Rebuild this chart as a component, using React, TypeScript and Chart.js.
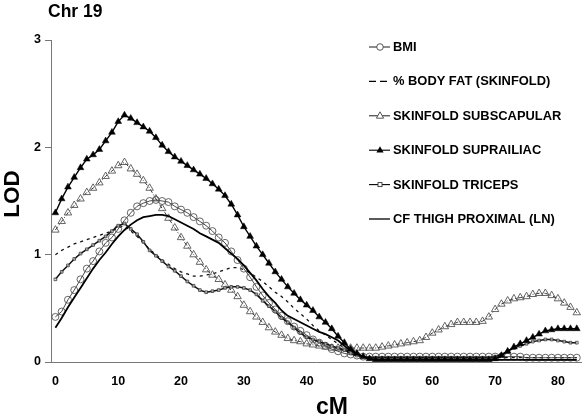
import React, { useEffect, useRef } from "react";
import { Chart, registerables } from "chart.js";

Chart.register(...registerables);

const chartTitle = "Chr 19";
const xTitle = "cM";
const yTitle = "LOD";
const xTicks = [0, 10, 20, 30, 40, 50, 60, 70, 80];
const yTicks = [0, 1, 2, 3];

const positionsCM = [
  0, 1, 2, 3, 4, 5, 6, 7, 8, 9,
  10, 11, 12, 13, 14, 15, 16, 17, 18, 19,
  20, 21, 22, 23, 24, 25, 26, 27, 28, 29,
  30, 31, 32, 33, 34, 35, 36, 37, 38, 39,
  40, 41, 42, 43, 44, 45, 46, 47, 48, 49,
  50, 51, 52, 53, 54, 55, 56, 57, 58, 59,
  60, 61, 62, 63, 64, 65, 66, 67, 68, 69,
  70, 71, 72, 73, 74, 75, 76, 77, 78, 79,
  80, 81, 82, 83,
];

const bmi = [
  0.42, 0.47, 0.58, 0.67, 0.77, 0.87, 0.94, 1.03, 1.11, 1.16,
  1.24, 1.32, 1.39, 1.45, 1.48, 1.50, 1.51, 1.50, 1.49, 1.45,
  1.42, 1.39, 1.35, 1.31, 1.27, 1.22, 1.16, 1.11, 1.03, 0.95,
  0.87, 0.79, 0.70, 0.62, 0.55, 0.49, 0.43, 0.38, 0.33, 0.29,
  0.25, 0.21, 0.18, 0.15, 0.12, 0.10, 0.08, 0.07, 0.06, 0.05,
  0.05, 0.05, 0.05, 0.05, 0.05, 0.05, 0.05, 0.05, 0.05, 0.05,
  0.05, 0.05, 0.05, 0.05, 0.05, 0.05, 0.05, 0.05, 0.05, 0.05,
  0.05, 0.05, 0.05, 0.05, 0.05, 0.04, 0.04, 0.04, 0.04, 0.04,
  0.04, 0.04, 0.04, 0.04,
];

const bodyFat = [
  1.00, 1.04, 1.07, 1.10, 1.12, 1.14, 1.16, 1.18, 1.20, 1.22,
  1.25, 1.27, 1.22, 1.17, 1.11, 1.05, 1.00, 0.95, 0.91, 0.87,
  0.84, 0.82, 0.80, 0.80, 0.81, 0.82, 0.84, 0.86, 0.88, 0.88,
  0.86, 0.83, 0.79, 0.75, 0.70, 0.65, 0.61, 0.56, 0.50, 0.45,
  0.40, 0.34, 0.29, 0.25, 0.21, 0.17, 0.13, 0.10, 0.07, 0.05,
  0.04, 0.04, 0.04, 0.04, 0.04, 0.04, 0.04, 0.04, 0.04, 0.04,
  0.04, 0.04, 0.04, 0.04, 0.04, 0.04, 0.04, 0.04, 0.04, 0.04,
  0.04, 0.04, 0.04, 0.04, 0.04, 0.04, 0.04, 0.04, 0.04, 0.04,
  0.04, 0.04, 0.04, 0.04,
];

const subscapular = [
  1.23, 1.31, 1.39, 1.46, 1.52, 1.58, 1.62, 1.67, 1.73, 1.78,
  1.83, 1.86, 1.80, 1.75, 1.69, 1.62, 1.52, 1.43, 1.34, 1.25,
  1.16, 1.08, 1.00, 0.93, 0.86, 0.81, 0.77, 0.72, 0.67, 0.61,
  0.53, 0.47, 0.42, 0.37, 0.32, 0.28, 0.25, 0.22, 0.20, 0.19,
  0.17, 0.16, 0.15, 0.14, 0.13, 0.13, 0.13, 0.13, 0.13, 0.13,
  0.13, 0.13, 0.14, 0.15, 0.16, 0.17, 0.18, 0.19, 0.20, 0.23,
  0.27, 0.30, 0.33, 0.35, 0.37, 0.37, 0.37, 0.37, 0.38, 0.42,
  0.49, 0.54, 0.57, 0.59, 0.60, 0.61, 0.63, 0.64, 0.64, 0.62,
  0.59, 0.55, 0.51, 0.46,
];

const suprailiac = [
  1.39, 1.52, 1.63, 1.72, 1.81, 1.89, 1.93, 1.98, 2.06, 2.14,
  2.24, 2.30, 2.27, 2.23, 2.19, 2.15, 2.09, 2.02, 1.96, 1.91,
  1.87, 1.83, 1.79, 1.75, 1.71, 1.66, 1.61, 1.55, 1.47, 1.37,
  1.26, 1.17, 1.08, 1.00, 0.92, 0.84, 0.77, 0.70, 0.64, 0.58,
  0.53, 0.48, 0.42, 0.37, 0.31, 0.24, 0.18, 0.12, 0.08, 0.05,
  0.03, 0.02, 0.02, 0.02, 0.02, 0.02, 0.02, 0.02, 0.02, 0.02,
  0.02, 0.02, 0.02, 0.02, 0.02, 0.02, 0.02, 0.02, 0.02, 0.02,
  0.03, 0.06, 0.10, 0.14, 0.17, 0.20, 0.23, 0.26, 0.29, 0.30,
  0.31, 0.31, 0.31, 0.31,
];

const triceps = [
  0.77, 0.84, 0.90, 0.96, 1.01, 1.05, 1.09, 1.13, 1.17, 1.22,
  1.27, 1.29, 1.24, 1.19, 1.12, 1.04, 0.99, 0.94, 0.89, 0.85,
  0.80, 0.75, 0.71, 0.67, 0.65, 0.66, 0.67, 0.69, 0.70, 0.70,
  0.69, 0.67, 0.63, 0.57, 0.52, 0.47, 0.41, 0.37, 0.32, 0.27,
  0.23, 0.21, 0.19, 0.17, 0.15, 0.13, 0.11, 0.08, 0.06, 0.05,
  0.04, 0.04, 0.04, 0.04, 0.04, 0.04, 0.04, 0.04, 0.04, 0.04,
  0.04, 0.04, 0.04, 0.04, 0.04, 0.04, 0.04, 0.04, 0.04, 0.04,
  0.05, 0.07, 0.10, 0.13, 0.15, 0.17, 0.19, 0.20, 0.21, 0.21,
  0.20, 0.19, 0.18, 0.18,
];

const cfThigh = [
  0.32, 0.41, 0.51, 0.60, 0.69, 0.78, 0.87, 0.95, 1.02, 1.10,
  1.17, 1.23, 1.28, 1.32, 1.35, 1.36, 1.37, 1.37, 1.36, 1.33,
  1.30, 1.27, 1.24, 1.20, 1.17, 1.14, 1.11, 1.06, 1.01, 0.96,
  0.90, 0.83, 0.76, 0.68, 0.61, 0.55, 0.48, 0.43, 0.40, 0.37,
  0.34, 0.31, 0.28, 0.26, 0.23, 0.20, 0.15, 0.11, 0.07, 0.05,
  0.03, 0.02, 0.02, 0.02, 0.02, 0.02, 0.02, 0.02, 0.02, 0.02,
  0.02, 0.02, 0.02, 0.02, 0.02, 0.02, 0.02, 0.02, 0.02, 0.02,
  0.02, 0.02, 0.02, 0.02, 0.02, 0.02, 0.02, 0.02, 0.02, 0.02,
  0.02, 0.02, 0.02, 0.02,
];

const seriesLabels = [
  "BMI",
  "% BODY FAT (SKINFOLD)",
  "SKINFOLD SUBSCAPULAR",
  "SKINFOLD SUPRAILIAC",
  "SKINFOLD TRICEPS",
  "CF THIGH PROXIMAL (LN)",
];

const FONT = '"Liberation Sans", Arial, Helvetica, sans-serif';

const toPoints = (ys: number[]) => ys.map((y, i) => ({ x: positionsCM[i], y }));

function drawMarker(ctx: CanvasRenderingContext2D, kind: string, x: number, y: number) {
  ctx.save();
  ctx.setLineDash([]);
  ctx.lineWidth = 0.9;
  if (kind === "circle") {
    ctx.strokeStyle = "#444";
    ctx.fillStyle = "#fff";
    ctx.beginPath();
    ctx.arc(x, y, 3.3, 0, Math.PI * 2);
    ctx.fill();
    ctx.stroke();
  } else if (kind === "triOpen" || kind === "triFilled") {
    const r = 4;
    ctx.beginPath();
    ctx.moveTo(x, y - r);
    ctx.lineTo(x + r * 0.9, y + r * 0.6);
    ctx.lineTo(x - r * 0.9, y + r * 0.6);
    ctx.closePath();
    if (kind === "triFilled") {
      ctx.fillStyle = "#000";
      ctx.fill();
    } else {
      ctx.fillStyle = "#fff";
      ctx.fill();
      ctx.strokeStyle = "#444";
      ctx.stroke();
    }
  } else if (kind === "square") {
    ctx.strokeStyle = "#333";
    ctx.fillStyle = "#fff";
    ctx.fillRect(x - 2, y - 2, 4, 4);
    ctx.strokeRect(x - 2, y - 2, 4, 4);
  }
  ctx.restore();
}

const legendStyles = [
  { dash: [] as number[], marker: "circle", width: 0.9 },
  { dash: [7, 4], marker: "", width: 1.1 },
  { dash: [] as number[], marker: "triOpen", width: 0.9 },
  { dash: [] as number[], marker: "triFilled", width: 1.1 },
  { dash: [] as number[], marker: "square", width: 1.1 },
  { dash: [] as number[], marker: "", width: 1.3 },
];

const overlayPlugin = {
  id: "overlay",
  afterDraw(chart: any) {
    const ctx: CanvasRenderingContext2D = chart.ctx;
    ctx.save();
    ctx.fillStyle = "#000";
    ctx.textAlign = "left";
    ctx.textBaseline = "alphabetic";
    ctx.font = `bold 17.5px ${FONT}`;
    ctx.fillText(chartTitle, 48, 17);

    ctx.font = `bold 23px ${FONT}`;
    ctx.textAlign = "center";
    ctx.fillText(xTitle, 332, 414);

    ctx.save();
    ctx.translate(19, 194);
    ctx.rotate(-Math.PI / 2);
    ctx.font = `bold 22.5px ${FONT}`;
    ctx.textAlign = "center";
    ctx.fillText(yTitle, 0, 0);
    ctx.restore();

    // legend
    ctx.font = `bold 12.9px ${FONT}`;
    ctx.textAlign = "left";
    ctx.textBaseline = "middle";
    seriesLabels.forEach((label, i) => {
      const y = 47 + i * 34.4;
      const st = legendStyles[i];
      ctx.save();
      ctx.strokeStyle = "#000";
      ctx.lineWidth = st.width;
      ctx.setLineDash(st.dash);
      ctx.beginPath();
      ctx.moveTo(369, y);
      ctx.lineTo(390, y);
      ctx.stroke();
      ctx.restore();
      if (st.marker) drawMarker(ctx, st.marker, 380, y);
      ctx.fillStyle = "#000";
      ctx.fillText(label, 393, y + 0.5);
    });
    ctx.restore();
  },
};

export default function App() {
  const canvasRef = useRef<HTMLCanvasElement | null>(null);

  useEffect(() => {
    if (!canvasRef.current) return;
    Chart.defaults.font.family = FONT;
    const chart = new Chart(canvasRef.current, {
      type: "line",
      data: {
        datasets: [
          {
            label: seriesLabels[3],
            data: toPoints(suprailiac),
            borderColor: "#000",
            borderWidth: 1.4,
            pointStyle: "triangle",
            pointRadius: 3.9,
            pointBackgroundColor: "#000",
            pointBorderColor: "#000",
            pointBorderWidth: 0.5,
          },
          {
            label: seriesLabels[4],
            data: toPoints(triceps),
            borderColor: "#111",
            borderWidth: 1.5,
            pointStyle: "rect",
            pointRadius: 1.9,
            pointBackgroundColor: "rgba(255,255,255,0.6)",
            pointBorderColor: "#333",
            pointBorderWidth: 0.8,
          },
          {
            label: seriesLabels[5],
            data: toPoints(cfThigh),
            borderColor: "#000",
            borderWidth: 1.8,
            pointRadius: 0,
          },
          {
            label: seriesLabels[0],
            data: toPoints(bmi),
            borderColor: "#333",
            borderWidth: 0.9,
            pointStyle: "circle",
            pointRadius: 3.5,
            pointBackgroundColor: "rgba(255,255,255,0)",
            pointBorderColor: "#555",
            pointBorderWidth: 0.9,
          },
          {
            label: seriesLabels[2],
            data: toPoints(subscapular),
            borderColor: "#222",
            borderWidth: 0.9,
            borderDash: [4, 2, 1, 2],
            pointStyle: "triangle",
            pointRadius: 4.3,
            pointBackgroundColor: "rgba(255,255,255,0)",
            pointBorderColor: "#555",
            pointBorderWidth: 0.9,
          },
          {
            label: seriesLabels[1],
            data: toPoints(bodyFat),
            borderColor: "#111",
            borderWidth: 1.3,
            borderDash: [3, 4],
            pointRadius: 0,
          },
        ],
      },
      options: {
        responsive: false,
        animation: false,
        events: [],
        layout: { padding: { top: 40, right: 1, left: 0, bottom: 0 } },
        plugins: {
          legend: { display: false },
          tooltip: { enabled: false },
          title: { display: false },
        },
        elements: { line: { tension: 0 } },
        scales: {
          x: {
            type: "linear",
            min: -0.7,
            max: 83.8,
            afterFit: (scale: any) => {
              scale.height = 55;
            },
            afterBuildTicks: (scale: any) => {
              scale.ticks = xTicks.map((v) => ({ value: v }));
            },
            grid: { drawOnChartArea: false, drawTicks: false },
            border: { display: true, color: "#777", width: 1 },
            ticks: {
              padding: 12,
              color: "#000",
              maxRotation: 0,
              autoSkip: false,
              font: { size: 12.5, weight: "bold", family: FONT },
            },
          },
          y: {
            type: "linear",
            min: 0,
            max: 3,
            afterFit: (scale: any) => {
              scale.width = 51;
            },
            afterBuildTicks: (scale: any) => {
              scale.ticks = yTicks.map((v) => ({ value: v }));
            },
            grid: { drawOnChartArea: false, drawTicks: true, tickLength: 6, color: "#777" },
            border: { display: true, color: "#777", width: 1 },
            ticks: {
              padding: 4,
              color: "#000",
              autoSkip: false,
              font: { size: 12.5, weight: "bold", family: FONT },
            },
          },
        },
      },
      plugins: [overlayPlugin],
    } as any);
    return () => chart.destroy();
  }, []);

  return (
    <div style={{ position: "fixed", left: 0, top: 0, width: 587, height: 417, background: "#fff" }}>
      <canvas ref={canvasRef} width={587} height={417} style={{ display: "block" }} />
    </div>
  );
}
